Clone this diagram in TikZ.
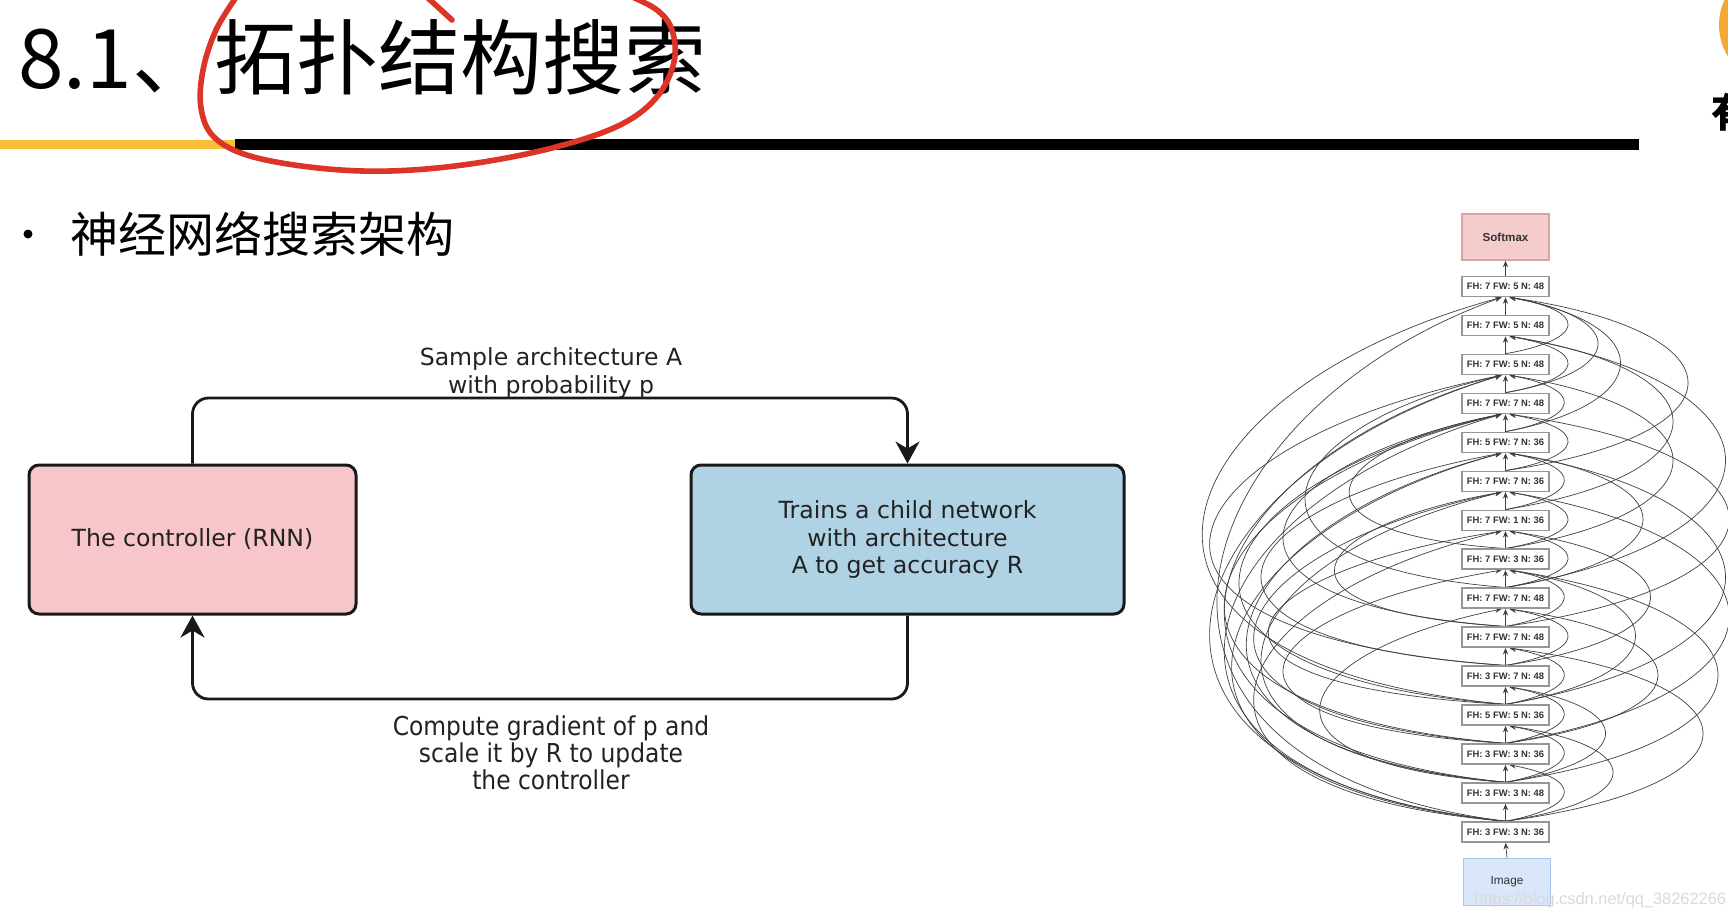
\documentclass[tikz,border=0pt]{standalone}
\usepackage{fontspec}
\newfontfamily\djv{DejaVu Sans}
\newfontfamily\djvc[FakeStretch=0.9]{DejaVu Sans}
\newfontfamily\cjk{Noto Sans CJK SC}
\newfontfamily\arl{Liberation Sans}
\usetikzlibrary{arrows.meta,calc}
\pgfdeclarelayer{bg}
\pgfsetlayers{bg,main}
\definecolor{pinkbox}{RGB}{247,198,202}
\definecolor{bluebox}{RGB}{175,210,228}
\definecolor{txt}{RGB}{34,34,34}
\definecolor{ylw}{RGB}{248,190,60}
\definecolor{redink}{RGB}{220,52,38}
\definecolor{orng}{RGB}{242,168,50}
\definecolor{smx}{RGB}{244,204,204}
\definecolor{smxb}{RGB}{215,165,165}
\definecolor{imgc}{RGB}{218,230,250}
\definecolor{imgb}{RGB}{170,195,232}
\definecolor{lay}{RGB}{150,150,150}
\begin{document}
\begin{tikzpicture}[x=0.5pt,y=-0.5pt,
  bigbox/.style={draw=black!90, line width=1.5pt, rounded corners=5pt, align=center,
    font=\djv\fontsize{11.8}{13.6}\selectfont, text=txt, inner sep=0pt},
  flow/.style={draw=black!90, line width=1.4pt, rounded corners=8pt,
    -{Stealth[length=11pt,width=12pt,inset=3.5pt]}},
  lab/.style={align=center, font=\djv\fontsize{11.8}{13.8}\selectfont, text=txt, inner sep=0pt},
  labc/.style={align=center, font=\djvc\fontsize{13}{13.6}\selectfont, text=txt, inner sep=0pt},
  laybox/.style={draw=lay, line width=0.8pt, fill=white, minimum width=43.5pt, minimum height=10pt,
    inner sep=0pt, font=\arl\bfseries\fontsize{4.7}{5}\selectfont, text=black!80},
  sk/.style={draw=black!75, line width=0.35pt, -{Stealth[length=3.2pt,width=2.6pt]}}
]
\useasboundingbox (0,0) rectangle (1728,918);

% header
\node[anchor=base west, inner sep=0pt, font=\cjk\fontsize{41}{41}\selectfont] (title) at (18,88) {8.1、拓扑结构搜索};
\fill[ylw] (0,140) rectangle (235,149);
\fill[black] (235,139) rectangle (1639,150);
\fill[orng] (1779,25) circle[radius=60];
\node[anchor=west, inner sep=0pt, font=\cjk\bfseries\fontsize{20}{20}\selectfont] (you) at (1711,112) {有};
\draw[redink, line width=2.8pt, line cap=round, line join=round]
  plot[smooth, tension=0.6] coordinates {(237,-4) (216,30) (203,70) (201,108) (214,137) (250,156) (318,168) (390,171) (470,164) (552,148) (618,126) (656,98) (674,62) (672,30) (657,10) (630,-4)};
\draw[redink, line width=2.8pt, line cap=round] (428,-2) -- (452,20);

% bullet
\fill[black] (28,234) circle[radius=4.5];
\node[anchor=west, inner sep=0pt, font=\cjk\fontsize{24}{24}\selectfont] (sub) at (70,234) {神经网络搜索架构};

% left diagram
\node[bigbox, fill=pinkbox, minimum width=163.5pt, minimum height=74.5pt] (ctrl) at (192.5,539.5) {The controller (RNN)};
\node[bigbox, fill=bluebox, minimum width=216.5pt, minimum height=74.5pt] (child) at (907.5,539.5) {Trains a child network\\with architecture\\A to get accuracy R};
\coordinate (tl) at (192.5,398);
\coordinate (tr) at (907.5,398);
\coordinate (bl) at (192.5,699);
\coordinate (br) at (907.5,699);
\draw[flow] (ctrl.north) -- (tl) -- (tr) -- (child.north);
\draw[flow] (child.south) -- (br) -- (bl) -- (ctrl.south);
\node[lab] (toplab) at (551,373) {Sample architecture A\\with probability p};
\node[labc] (botlab) at (551,753) {Compute gradient of p and\\scale it by R to update\\the controller};

% right diagram
\node[draw=smxb, line width=0.8pt, fill=smx, minimum width=43.5pt, minimum height=23pt, inner sep=0pt,
  font=\arl\bfseries\fontsize{5.8}{6}\selectfont, text=black!80] (soft) at (1505.5,237) {Softmax};
\node[draw=imgb, line width=0.8pt, fill=imgc, minimum width=43.5pt, minimum height=23.5pt, inner sep=0pt,
  font=\arl\fontsize{5.9}{6}\selectfont, text=black!80] (img) at (1507,882) {Image};
\foreach \i/\lab in {1/{FH: 3 FW: 3 N: 36}, 2/{FH: 3 FW: 3 N: 48}, 3/{FH: 3 FW: 3 N: 36},
  4/{FH: 5 FW: 5 N: 36}, 5/{FH: 3 FW: 7 N: 48}, 6/{FH: 7 FW: 7 N: 48}, 7/{FH: 7 FW: 7 N: 48},
  8/{FH: 7 FW: 3 N: 36}, 9/{FH: 7 FW: 1 N: 36}, 10/{FH: 7 FW: 7 N: 36}, 11/{FH: 5 FW: 7 N: 36},
  12/{FH: 7 FW: 7 N: 48}, 13/{FH: 7 FW: 5 N: 48}, 14/{FH: 7 FW: 5 N: 48}, 15/{FH: 7 FW: 5 N: 48}}
  \node[laybox] (L\i) at (1505.5,{832-(\i-1)*38.96}) {\lab};

\begin{pgfonlayer}{bg}
\fill[white] (0,0) rectangle (1728,918);
\draw[sk] (img.north) -- (L1.south);
\draw[sk] (L15.north) -- (soft.south);
\foreach \i [evaluate=\i as \j using int(\i+1)] in {1,...,14}
  \draw[sk] (L\i.north) -- (L\j.south);
% left skip connections
\foreach \f/\t/\a in {1/15/390, 1/13/400, 1/12/380, 1/11/370, 1/9/340,
  2/13/380, 2/11/350, 2/10/330, 3/12/380, 3/10/340, 3/8/300,
  4/12/360, 4/9/320, 5/11/330, 5/13/400, 6/12/300, 7/13/270,
  2/7/250, 4/15/410, 6/10/230, 8/12/210} {
  \pgfmathsetmacro\D{(\t-\f)*38.96}
  \draw[sk] (L\f.north) .. controls +(-1.1*\a,-0.1*\D) and +(-0.85*\a,0.22*\D) .. ([xshift=-2pt]L\t.south);
}
% right skip connections
\foreach \f/\t/\a in {1/3/75, 1/4/140, 1/6/260, 2/4/75, 2/5/130, 2/8/280, 3/5/75, 3/7/200,
  3/10/295, 4/6/75, 4/8/170, 4/11/290, 5/7/80, 5/9/190, 6/8/75, 6/12/295,
  7/9/80, 7/11/180, 7/14/290, 8/10/80, 8/13/220, 9/11/75, 9/14/220,
  10/12/80, 10/15/240, 11/13/75, 11/15/150, 12/14/80, 13/15/80, 12/15/120} {
  \pgfmathsetmacro\D{(\t-\f)*38.96}
  \draw[sk] (L\f.north) .. controls +(\a,-0.18*\D) and +(\a,0.18*\D) .. ([xshift=2pt]L\t.south);
}
\end{pgfonlayer}

\node[anchor=west, inner sep=0pt, font=\arl\fontsize{8.2}{9}\selectfont, text=gray!30] (wm) at (1474,900) {https://blog.csdn.net/qq\_38262266};
\end{tikzpicture}
\end{document}
